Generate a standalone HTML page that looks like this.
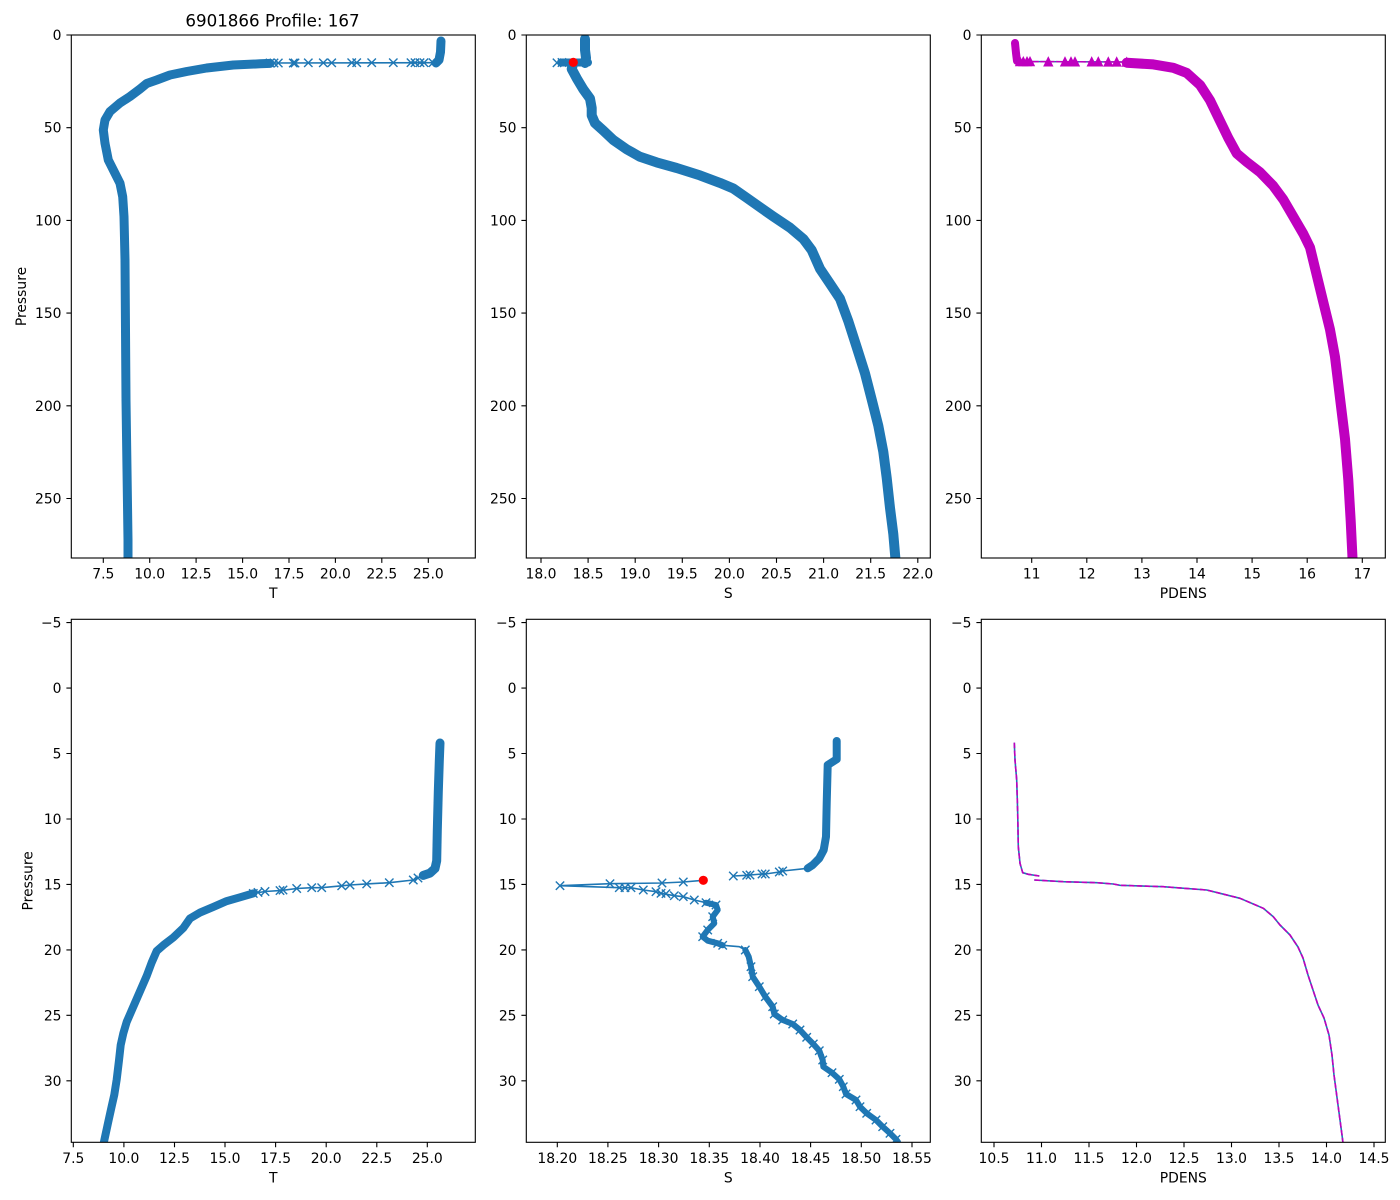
<!DOCTYPE html>
<html>
<head>
<meta charset="utf-8">
<style>
html,body{margin:0;padding:0;background:#fff;}
svg{display:block;}
text{font-family:"DejaVu Sans","Liberation Sans",sans-serif;fill:#000;}
.tk{font-size:13.9px;}
.al{font-size:13.9px;}
</style>
</head>
<body>
<svg width="1400" height="1200" viewBox="0 0 1400 1200" xmlns="http://www.w3.org/2000/svg">
<defs>
  <clipPath id="cA1"><rect x="71.3" y="35" width="404" height="523"/></clipPath>
  <clipPath id="cA2"><rect x="526.3" y="35" width="404" height="523"/></clipPath>
  <clipPath id="cA3"><rect x="981.3" y="35" width="404" height="523"/></clipPath>
  <clipPath id="cB1"><rect x="71.3" y="619.3" width="404" height="523"/></clipPath>
  <clipPath id="cB2"><rect x="526.3" y="619.3" width="404" height="523"/></clipPath>
  <clipPath id="cB3"><rect x="981.3" y="619.3" width="404" height="523"/></clipPath>
  <path id="xm" d="M-4.2,-4.2L4.2,4.2M-4.2,4.2L4.2,-4.2" stroke="#1f77b4" stroke-width="1.4" fill="none"/>
  <path id="tm" d="M0,-4.2L4.2,4.2L-4.2,4.2Z" fill="#bf00bf" stroke="#bf00bf" stroke-width="1.2"/>
</defs>
<rect width="1400" height="1200" fill="#fff"/>

<!-- Title -->
<text x="272.5" y="26.5" text-anchor="middle" style="font-size:16.7px">6901866 Profile: 167</text>

<!-- ============ A1: T (top-left) ============ -->
<g clip-path="url(#cA1)" fill="none" stroke-linejoin="round" stroke-linecap="round">
  <polyline points="441,41 440.5,52 439,60 436,63" stroke="#1f77b4" stroke-width="9"/>
  <polyline points="436,62.7 270,63" stroke="#1f77b4" stroke-width="1.6"/>
  <polyline points="270,63.4 260,63.8 233.3,65 206.7,68 186.7,71.5 170,75 156.7,80 146.7,83.5 140,89 130,96.5 120,103 110,111.5 105,120 103.3,130 105,143.3 108.3,160 115,173.3 120,183.3 122.7,196.7 124,216.7 125,260 126,400 127,470 128,540 128,560" stroke="#1f77b4" stroke-width="9"/>
</g>
<g clip-path="url(#cA1)">
  <use href="#xm" x="433" y="62.7"/><use href="#xm" x="424" y="62.7"/><use href="#xm" x="420" y="62.7"/>
  <use href="#xm" x="415" y="62.7"/><use href="#xm" x="411" y="62.7"/><use href="#xm" x="393.3" y="62.7"/>
  <use href="#xm" x="371.7" y="62.7"/><use href="#xm" x="356.7" y="62.7"/><use href="#xm" x="351.7" y="62.7"/>
  <use href="#xm" x="331.7" y="62.8"/><use href="#xm" x="323.3" y="62.8"/><use href="#xm" x="308.3" y="62.8"/>
  <use href="#xm" x="295" y="63"/><use href="#xm" x="293.3" y="63"/><use href="#xm" x="278.3" y="63"/>
  <use href="#xm" x="274" y="63"/><use href="#xm" x="270" y="63"/>
</g>

<!-- ============ A2: S (top-middle) ============ -->
<g clip-path="url(#cA2)" fill="none" stroke-linejoin="round" stroke-linecap="round">
  <polyline points="585,39 585,50 586,58 585,63" stroke="#1f77b4" stroke-width="10"/>
  <polyline points="561,62.5 588,62.5" stroke="#1f77b4" stroke-width="8"/>
  <polyline points="573,64 571.7,69 576.7,78.3 583.3,89.3 590,98.6 591.7,108 591.7,115.4 595,123.1 603.3,130.6 613.3,140 626.7,149.3 640,156.8 656.7,162.4 676.7,168 700,175.4 720,182.9 733.3,188.5 746.7,197.8 760,207.2 773.3,216.5 790,227.7 803.3,238.9 811.7,250.1 820,268.8 830,283.7 840,298.7 848.3,321.1 856.7,347.2 865,373.4 871.7,399.5 878.3,425.7 883.3,451.8 886.7,477.9 890,507.9 893.3,534 895.7,562" stroke="#1f77b4" stroke-width="10"/>
</g>
<g clip-path="url(#cA2)">
  <use href="#xm" x="557" y="62.8"/><use href="#xm" x="562" y="62.5"/>
  <circle cx="573.3" cy="62.4" r="4.6" fill="#ff0000"/>
</g>

<!-- ============ A3: PDENS (top-right) ============ -->
<g clip-path="url(#cA3)" fill="none" stroke-linejoin="round" stroke-linecap="round">
  <polyline points="1015,43 1016,53 1017,61" stroke="#bf00bf" stroke-width="8"/>
  <polyline points="1017,61.5 1126.7,62" stroke="#1f77b4" stroke-width="1.5"/>
  <polyline points="1017,61.5 1126.7,62" stroke="#bf00bf" stroke-width="1.5" stroke-dasharray="5.5,2.4"/>
  <polyline points="1126.7,62.7 1153.3,64.4 1173.3,67.8 1186.7,72.9 1200,84.9 1210,100.3 1220,120.9 1228.3,138 1236.7,153.4 1246.7,161.9 1260,172.2 1273.3,185.9 1283.3,199.5 1293.3,216.6 1303.3,233.8 1310,247.4 1315,268 1323.3,302.2 1330,329.6 1335,356.9 1340,398 1345,439 1348.3,480 1350.7,521.1 1352.7,562" stroke="#bf00bf" stroke-width="10"/>
</g>
<g clip-path="url(#cA3)">
  <use href="#tm" x="1020" y="61.5"/><use href="#tm" x="1023.3" y="61.5"/><use href="#tm" x="1027" y="61.5"/>
  <use href="#tm" x="1030" y="61.5"/><use href="#tm" x="1048.3" y="61.7"/><use href="#tm" x="1065" y="61.7"/>
  <use href="#tm" x="1071" y="61.7"/><use href="#tm" x="1075" y="61.7"/><use href="#tm" x="1091.7" y="61.7"/>
  <use href="#tm" x="1098.3" y="61.7"/><use href="#tm" x="1108.3" y="61.8"/><use href="#tm" x="1116.7" y="61.8"/>
  <use href="#tm" x="1126.7" y="62"/>
</g>

<!-- ============ B1: T (bottom-left) ============ -->
<g clip-path="url(#cB1)" fill="none" stroke-linejoin="round" stroke-linecap="round">
  <polyline points="440,743 439.3,761.1 438.3,791.8 437.3,830.2 436.7,860.8 435,868.5 430,873.1 423.3,875.4" stroke="#1f77b4" stroke-width="9"/>
  <polyline points="423.3,875.4 413.3,880 389.3,882.7 366.7,883.9 350,885 341.7,885.8 321.7,887.7 311.7,887.7 296.7,888.5 281.7,890.4 265,891.5 253.3,893.4" stroke="#1f77b4" stroke-width="1.6"/>
  <polyline points="253.3,893.4 240,897.3 226.7,901.1 213.3,906.9 200,912.6 190,918.4 183.3,928 173.3,937.5 163.3,945.2 156.7,951 151.7,962.5 146.7,975.9 141.7,987.4 136.7,998.9 131.7,1010.4 126.7,1021.9 123.3,1033.4 120.7,1045 119,1060.3 116.7,1079.5 114.3,1094.8 111.7,1106.3 108.3,1121.7 105,1137 103.3,1145" stroke="#1f77b4" stroke-width="8"/>
</g>
<g clip-path="url(#cB1)">
  <use href="#xm" x="418" y="878"/><use href="#xm" x="413.3" y="880"/><use href="#xm" x="389.3" y="882.7"/>
  <use href="#xm" x="366.7" y="883.9"/><use href="#xm" x="350" y="885"/><use href="#xm" x="341.7" y="885.8"/>
  <use href="#xm" x="321.7" y="887.7"/><use href="#xm" x="311.7" y="887.7"/><use href="#xm" x="296.7" y="888.5"/>
  <use href="#xm" x="283" y="890"/><use href="#xm" x="280" y="890.6"/><use href="#xm" x="265" y="891.5"/>
  <use href="#xm" x="258" y="892.4"/><use href="#xm" x="253.3" y="893.4"/>
</g>

<!-- ============ B2: S (bottom-middle) ============ -->
<g clip-path="url(#cB2)" fill="none" stroke-linejoin="round" stroke-linecap="round">
  <polyline points="836.7,741 836.7,759.3 827.7,765 826.7,803.3 826,836.7 823.7,850 819.3,858.3 812.7,865 807.7,868.3" stroke="#1f77b4" stroke-width="8"/>
  <polyline points="807.7,868.3 782.7,871 779.3,872 765.3,874 762,874 750,875 746.7,875.3 733.3,876" stroke="#1f77b4" stroke-width="1.6"/>
  <polyline points="703.3,880.3 683.3,882 662,883 610,883.7 560,885.7 619.3,887.7 631,887.7 643.3,890 656,891.7 661,893.3 674.3,895.7 683.3,896.7 694.3,900 706,902.7" stroke="#1f77b4" stroke-width="1.6"/>
  <polyline points="706,902.7 716,905 717.7,910 712.7,916.7 714.3,923.3 707.7,930 702.7,936.7 707.7,940.7 717.7,943.3 722.7,945.3" stroke="#1f77b4" stroke-width="6"/>
  <polyline points="722.7,945.3 739.3,946.7 745.3,950" stroke="#1f77b4" stroke-width="1.6"/>
  <polyline points="745.3,950 748.7,956.7 751,966.7 752.7,976.7 759.3,986.7 765.3,996.7 772.7,1006.7 774.3,1014 782.7,1020 792.7,1024 800,1030 806.7,1037.3 813.3,1044 819.3,1050.7 822.7,1060 823.3,1066.7 832,1072.7 839.3,1079.3 843.3,1086.7 846,1094 856,1100 860,1106.7 866.7,1113.3 876,1120 882.7,1126.7 890,1133.3 896,1139.3 898,1142" stroke="#1f77b4" stroke-width="6"/>
</g>
<g clip-path="url(#cB2)">
  <use href="#xm" x="782.7" y="871"/><use href="#xm" x="779.3" y="872"/><use href="#xm" x="765.3" y="874"/>
  <use href="#xm" x="762" y="874"/><use href="#xm" x="750" y="875"/><use href="#xm" x="746.7" y="875.3"/>
  <use href="#xm" x="733.3" y="876"/>
  <use href="#xm" x="683.3" y="882"/><use href="#xm" x="662" y="883"/><use href="#xm" x="610" y="883.7"/>
  <use href="#xm" x="560" y="885.7"/><use href="#xm" x="619.3" y="887.7"/><use href="#xm" x="625" y="887.7"/>
  <use href="#xm" x="631" y="887.7"/><use href="#xm" x="643.3" y="890"/><use href="#xm" x="656" y="891.7"/>
  <use href="#xm" x="661" y="893.3"/><use href="#xm" x="666" y="893.7"/><use href="#xm" x="674.3" y="895.7"/>
  <use href="#xm" x="683.3" y="896.7"/><use href="#xm" x="694.3" y="900"/><use href="#xm" x="706" y="902.7"/>
  <use href="#xm" x="716" y="905"/><use href="#xm" x="712.7" y="916.7"/><use href="#xm" x="707.7" y="930"/>
  <use href="#xm" x="702.7" y="936.7"/><use href="#xm" x="717.7" y="943.3"/><use href="#xm" x="722.7" y="945.3"/>
  <use href="#xm" x="745.3" y="950"/><use href="#xm" x="751" y="966.7"/><use href="#xm" x="752.7" y="976.7"/>
  <use href="#xm" x="759.3" y="986.7"/><use href="#xm" x="765.3" y="996.7"/><use href="#xm" x="772.7" y="1006.7"/>
  <use href="#xm" x="774.3" y="1014"/><use href="#xm" x="782.7" y="1020"/><use href="#xm" x="792.7" y="1024"/>
  <use href="#xm" x="800" y="1030"/><use href="#xm" x="806.7" y="1037.3"/><use href="#xm" x="813.3" y="1044"/>
  <use href="#xm" x="819.3" y="1050.7"/><use href="#xm" x="822.7" y="1060"/><use href="#xm" x="832" y="1072.7"/>
  <use href="#xm" x="839.3" y="1079.3"/><use href="#xm" x="843.3" y="1086.7"/><use href="#xm" x="846" y="1094"/>
  <use href="#xm" x="856" y="1100"/><use href="#xm" x="860" y="1106.7"/><use href="#xm" x="866.7" y="1113.3"/>
  <use href="#xm" x="876" y="1120"/><use href="#xm" x="882.7" y="1126.7"/><use href="#xm" x="890" y="1133.3"/>
  <use href="#xm" x="896" y="1139.3"/>
  <circle cx="703.3" cy="880.3" r="4.6" fill="#ff0000"/>
</g>

<!-- ============ B3: PDENS (bottom-right) ============ -->
<g clip-path="url(#cB3)" fill="none" stroke-linejoin="round">
  <polyline points="1014.3,742.7 1015,760 1016.7,780 1017.7,813.3 1018.3,846.7 1020,863.3 1022.7,872.7 1028.3,874.3 1039.3,876" stroke="#1f77b4" stroke-width="1.6"/>
  <polyline points="1034.3,880 1063.3,881.7 1096.7,882.7 1113.3,884 1120,885.3 1163.3,886.7 1206.7,890 1220,893.3 1240,898.3 1253.3,904 1263.3,908.3 1273.3,916.7 1280,925 1290,935 1298,947 1303,958 1308,975 1313,990 1318,1005 1324,1018 1329,1035 1332,1055 1334,1075 1336,1090 1338,1105 1340,1120 1342,1135 1343,1143" stroke="#1f77b4" stroke-width="1.6"/>
  <polyline points="1014.3,742.7 1015,760 1016.7,780 1017.7,813.3 1018.3,846.7 1020,863.3 1022.7,872.7 1028.3,874.3 1039.3,876" stroke="#bf00bf" stroke-width="1.6" stroke-dasharray="5.5,2.4"/>
  <polyline points="1034.3,880 1063.3,881.7 1096.7,882.7 1113.3,884 1120,885.3 1163.3,886.7 1206.7,890 1220,893.3 1240,898.3 1253.3,904 1263.3,908.3 1273.3,916.7 1280,925 1290,935 1298,947 1303,958 1308,975 1313,990 1318,1005 1324,1018 1329,1035 1332,1055 1334,1075 1336,1090 1338,1105 1340,1120 1342,1135 1343,1143" stroke="#bf00bf" stroke-width="1.6" stroke-dasharray="5.5,2.4"/>
</g>

<!-- ============ Spines ============ -->
<g fill="none" stroke="#000" stroke-width="1.1">
  <rect x="71.3" y="35" width="404" height="523"/>
  <rect x="526.3" y="35" width="404" height="523"/>
  <rect x="981.3" y="35" width="404" height="523"/>
  <rect x="71.3" y="619.3" width="404" height="523"/>
  <rect x="526.3" y="619.3" width="404" height="523"/>
  <rect x="981.3" y="619.3" width="404" height="523"/>
</g>

<!-- ============ Ticks ============ -->
<g stroke="#000" stroke-width="1.1" fill="none">
  <path d="M71.3,35h-4.9M71.3,127.7h-4.9M71.3,220.4h-4.9M71.3,313.1h-4.9M71.3,405.8h-4.9M71.3,498.5h-4.9"/>
  <path d="M526.3,35h-4.9M526.3,127.7h-4.9M526.3,220.4h-4.9M526.3,313.1h-4.9M526.3,405.8h-4.9M526.3,498.5h-4.9"/>
  <path d="M981.3,35h-4.9M981.3,127.7h-4.9M981.3,220.4h-4.9M981.3,313.1h-4.9M981.3,405.8h-4.9M981.3,498.5h-4.9"/>
  <path d="M71.3,622.6h-4.9M71.3,688.1h-4.9M71.3,753.5h-4.9M71.3,819h-4.9M71.3,884.4h-4.9M71.3,949.9h-4.9M71.3,1015.3h-4.9M71.3,1080.8h-4.9"/>
  <path d="M526.3,622.6h-4.9M526.3,688.1h-4.9M526.3,753.5h-4.9M526.3,819h-4.9M526.3,884.4h-4.9M526.3,949.9h-4.9M526.3,1015.3h-4.9M526.3,1080.8h-4.9"/>
  <path d="M981.3,622.6h-4.9M981.3,688.1h-4.9M981.3,753.5h-4.9M981.3,819h-4.9M981.3,884.4h-4.9M981.3,949.9h-4.9M981.3,1015.3h-4.9M981.3,1080.8h-4.9"/>
  <path d="M103.3,558v4.9M149.7,558v4.9M196.1,558v4.9M242.6,558v4.9M289,558v4.9M335.4,558v4.9M381.8,558v4.9M428.3,558v4.9"/>
  <path d="M541,558v4.9M588.1,558v4.9M635.2,558v4.9M682.3,558v4.9M729.4,558v4.9M776.5,558v4.9M823.6,558v4.9M870.7,558v4.9M917.8,558v4.9"/>
  <path d="M1031.7,558v4.9M1086.8,558v4.9M1141.9,558v4.9M1197,558v4.9M1252.1,558v4.9M1307.2,558v4.9M1362.3,558v4.9"/>
  <path d="M73.3,1142.3v4.9M123.9,1142.3v4.9M174.5,1142.3v4.9M225,1142.3v4.9M275.6,1142.3v4.9M326.2,1142.3v4.9M376.8,1142.3v4.9M427.3,1142.3v4.9"/>
  <path d="M557.3,1142.3v4.9M607.9,1142.3v4.9M658.6,1142.3v4.9M709.3,1142.3v4.9M760,1142.3v4.9M810.6,1142.3v4.9M861.3,1142.3v4.9M912,1142.3v4.9"/>
  <path d="M994,1142.3v4.9M1041.5,1142.3v4.9M1089,1142.3v4.9M1136.5,1142.3v4.9M1184,1142.3v4.9M1231.5,1142.3v4.9M1279,1142.3v4.9M1326.5,1142.3v4.9M1374,1142.3v4.9"/>
</g>

<!-- ============ Tick labels ============ -->
<g class="tk" text-anchor="end">
  <text x="61.5" y="40">0</text><text x="61.5" y="132.7">50</text><text x="61.5" y="225.4">100</text>
  <text x="61.5" y="318.1">150</text><text x="61.5" y="410.8">200</text><text x="61.5" y="503.5">250</text>
  <text x="516.5" y="40">0</text><text x="516.5" y="132.7">50</text><text x="516.5" y="225.4">100</text>
  <text x="516.5" y="318.1">150</text><text x="516.5" y="410.8">200</text><text x="516.5" y="503.5">250</text>
  <text x="971.5" y="40">0</text><text x="971.5" y="132.7">50</text><text x="971.5" y="225.4">100</text>
  <text x="971.5" y="318.1">150</text><text x="971.5" y="410.8">200</text><text x="971.5" y="503.5">250</text>

  <text x="61.5" y="627.6">−5</text><text x="61.5" y="693.1">0</text><text x="61.5" y="758.5">5</text>
  <text x="61.5" y="824">10</text><text x="61.5" y="889.4">15</text><text x="61.5" y="954.9">20</text>
  <text x="61.5" y="1020.3">25</text><text x="61.5" y="1085.8">30</text>
  <text x="516.5" y="627.6">−5</text><text x="516.5" y="693.1">0</text><text x="516.5" y="758.5">5</text>
  <text x="516.5" y="824">10</text><text x="516.5" y="889.4">15</text><text x="516.5" y="954.9">20</text>
  <text x="516.5" y="1020.3">25</text><text x="516.5" y="1085.8">30</text>
  <text x="971.5" y="627.6">−5</text><text x="971.5" y="693.1">0</text><text x="971.5" y="758.5">5</text>
  <text x="971.5" y="824">10</text><text x="971.5" y="889.4">15</text><text x="971.5" y="954.9">20</text>
  <text x="971.5" y="1020.3">25</text><text x="971.5" y="1085.8">30</text>
</g>
<g class="tk" text-anchor="middle">
  <text x="103.3" y="578.5">7.5</text><text x="149.7" y="578.5">10.0</text><text x="196.1" y="578.5">12.5</text>
  <text x="242.6" y="578.5">15.0</text><text x="289" y="578.5">17.5</text><text x="335.4" y="578.5">20.0</text>
  <text x="381.8" y="578.5">22.5</text><text x="428.3" y="578.5">25.0</text>

  <text x="541" y="578.5">18.0</text><text x="588.1" y="578.5">18.5</text><text x="635.2" y="578.5">19.0</text>
  <text x="682.3" y="578.5">19.5</text><text x="729.4" y="578.5">20.0</text><text x="776.5" y="578.5">20.5</text>
  <text x="823.6" y="578.5">21.0</text><text x="870.7" y="578.5">21.5</text><text x="917.8" y="578.5">22.0</text>

  <text x="1031.7" y="578.5">11</text><text x="1086.8" y="578.5">12</text><text x="1141.9" y="578.5">13</text>
  <text x="1197" y="578.5">14</text><text x="1252.1" y="578.5">15</text><text x="1307.2" y="578.5">16</text>
  <text x="1362.3" y="578.5">17</text>

  <text x="73.3" y="1162.8">7.5</text><text x="123.9" y="1162.8">10.0</text><text x="174.5" y="1162.8">12.5</text>
  <text x="225" y="1162.8">15.0</text><text x="275.6" y="1162.8">17.5</text><text x="326.2" y="1162.8">20.0</text>
  <text x="376.8" y="1162.8">22.5</text><text x="427.3" y="1162.8">25.0</text>

  <text x="557.3" y="1162.8">18.20</text><text x="607.9" y="1162.8">18.25</text><text x="658.6" y="1162.8">18.30</text>
  <text x="709.3" y="1162.8">18.35</text><text x="760" y="1162.8">18.40</text><text x="810.6" y="1162.8">18.45</text>
  <text x="861.3" y="1162.8">18.50</text><text x="912" y="1162.8">18.55</text>

  <text x="994" y="1162.8">10.5</text><text x="1041.5" y="1162.8">11.0</text><text x="1089" y="1162.8">11.5</text>
  <text x="1136.5" y="1162.8">12.0</text><text x="1184" y="1162.8">12.5</text><text x="1231.5" y="1162.8">13.0</text>
  <text x="1279" y="1162.8">13.5</text><text x="1326.5" y="1162.8">14.0</text><text x="1374" y="1162.8">14.5</text>
</g>

<!-- ============ Axis labels ============ -->
<g class="al" text-anchor="middle">
  <text x="273.3" y="598">T</text>
  <text x="728.3" y="598">S</text>
  <text x="1183.3" y="598">PDENS</text>
  <text x="273.3" y="1182.3">T</text>
  <text x="728.3" y="1182.3">S</text>
  <text x="1183.3" y="1182.3">PDENS</text>
  <text transform="translate(26,296.5) rotate(-90)">Pressure</text>
  <text transform="translate(32.5,880.8) rotate(-90)">Pressure</text>
</g>
</svg>
</body>
</html>
